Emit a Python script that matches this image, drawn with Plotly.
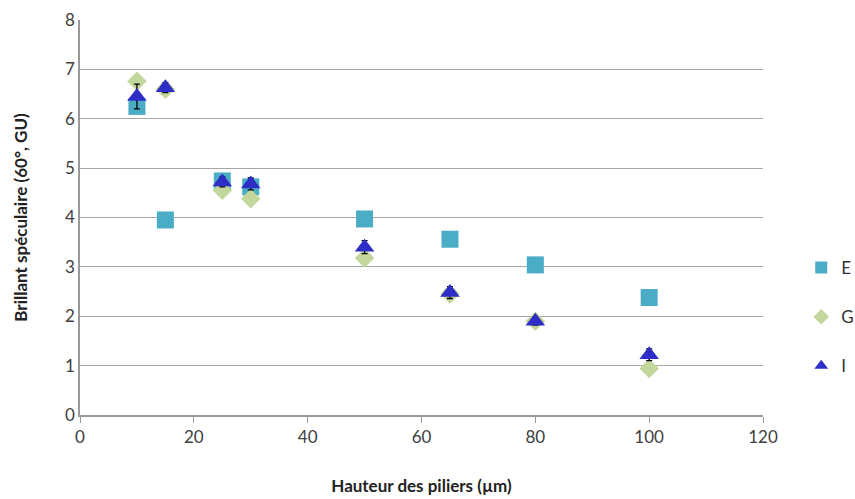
import plotly.graph_objects as go

x_E = [10, 15, 25, 30, 50, 65, 80, 100]
y_E = [6.25, 3.95, 4.74, 4.62, 3.97, 3.56, 3.04, 2.38]
err_E = [0.05, 0.05, 0.05, 0.05, 0.05, 0.05, 0.05, 0.05]

x_G = [10, 15, 25, 30, 50, 65, 80, 100]
y_G = [6.76, 6.6, 4.55, 4.38, 3.18, 2.45, 1.9, 0.94]
err_G = [0.1, 0.08, 0.1, 0.1, 0.1, 0.1, 0.08, 0.1]

x_I = [10, 15, 25, 30, 50, 65, 80, 100]
y_I = [6.45, 6.63, 4.72, 4.68, 3.4, 2.48, 1.9, 1.22]
err_I = [0.25, 0.1, 0.1, 0.12, 0.13, 0.12, 0.08, 0.12]

x_ticks = [0, 20, 40, 60, 80, 100, 120]
y_ticks = [0, 1, 2, 3, 4, 5, 6, 7, 8]

FONT = "Lato"
fig = go.Figure()

def add(name, xs, ys, errs, symbol, color, size, group):
    fig.add_trace(go.Scatter(
        x=xs, y=ys, name=name, mode="markers", legendgroup=group,
        marker=dict(symbol=symbol, color=color, size=size, line=dict(width=0)),
        error_y=dict(type="data", array=errs, color="black", thickness=1.3, width=3),
    ))

add("E", x_E, y_E, err_E, "square", "#4BACC6", 17, "e")
add("G", x_G, y_G, err_G, "diamond", "#C3D69B", 15, "g")
add("I", x_I, y_I, err_I, "triangle-up", "#2E2EC6", 17, "i")

fig.update_layout(
    width=855, height=499,
    margin=dict(l=80, r=92, t=20, b=84, autoexpand=False),
    paper_bgcolor="white", plot_bgcolor="white",
    font=dict(family=FONT, size=16, color="#404040"),
    showlegend=True,
    legend=dict(x=1.056, y=0.248, yanchor="middle", xanchor="left",
                tracegroupgap=24, font=dict(size=17, family=FONT, color="#333"),
                itemsizing="constant"),
    xaxis=dict(range=[0, 120], tickvals=x_ticks, showgrid=False, automargin=False,
               showline=True, linecolor="#999", linewidth=1.5,
               ticks="outside", tickcolor="#999", ticklen=6,
               zeroline=False, tickfont=dict(size=17),
               title=dict(text="<b>Hauteur des piliers (µm)</b>", font=dict(size=17, color="#222"), standoff=34)),
    yaxis=dict(range=[0, 8], tickvals=y_ticks, showgrid=True, gridcolor="#A6A6A6", gridwidth=1.3,
               showline=True, linecolor="#999", linewidth=1.5, zeroline=False, automargin=False,
               ticks="", tickfont=dict(size=17),
               title=dict(text="<b>Brillant spéculaire (60°, GU)</b>", font=dict(size=17, color="#222"), standoff=33)),
)

fig.write_html("out.html", config={"displayModeBar": False},
               post_script="document.body.style.margin='0';document.body.style.overflow='hidden';")
